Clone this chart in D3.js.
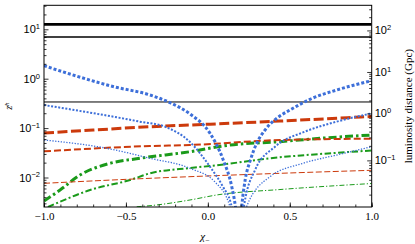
<!DOCTYPE html>
<html>
<head>
<meta charset="utf-8">
<script src="https://cdn.jsdelivr.net/npm/d3@7"></script>
<style>
  body { margin: 0; background: #fff; }
  svg { display: block; font-family: "Liberation Serif", "DejaVu Serif", serif; }
</style>
</head>
<body>
<div id="chart"></div>
<script>
// ---- data (chi_-, z^h) ----
const blueThickL = [[-1.0, 1.83], [-0.567, 0.68], [-0.353, 0.468], [-0.231, 0.327], [-0.109, 0.193], [0.013, 0.0785], [0.094, 0.0227], [0.146, 0.0065], [0.168, 0.0026], [0.185, 0.0008]];
const blueThickR = [[0.195, 0.0008], [0.207, 0.0026], [0.228, 0.009], [0.26, 0.0227], [0.298, 0.0492], [0.349, 0.0916], [0.44, 0.176], [0.501, 0.232], [0.623, 0.383], [0.786, 0.59], [1.0, 0.911]];
const blueMidL = [[-1.0, 0.293], [-0.414, 0.135], [-0.262, 0.107], [-0.109, 0.0523], [0.013, 0.01655], [0.092, 0.00651], [0.14, 0.00305], [0.175, 0.0008]];
const blueMidR = [[0.2, 0.0008], [0.222, 0.0028], [0.288, 0.0142], [0.41, 0.042], [0.592, 0.0846], [0.786, 0.135], [1.0, 0.199]];
const blueThinL = [[-1.0, 0.0574], [-0.617, 0.039], [-0.353, 0.0245], [-0.109, 0.01535], [0.044, 0.0081], [0.135, 0.00256], [0.165, 0.0008]];
const blueThinR = [[0.21, 0.0008], [0.237, 0.0026], [0.379, 0.0104], [0.581, 0.0194], [0.786, 0.0285], [1.0, 0.042]];

const redThick = [[-1.0, 0.0796], [-0.7, 0.0914], [-0.353, 0.1067], [-0.109, 0.1155], [0.44, 0.139], [1.0, 0.172]];
const redMid = [[-1.0, 0.0339], [-0.353, 0.0434], [-0.109, 0.0455], [0.44, 0.0574], [1.0, 0.061]];
const redThin = [[-1.0, 0.00763], [-0.353, 0.00964], [-0.109, 0.0104], [0.44, 0.01216], [1.0, 0.014]];

const greenThick = [[-1.0, 0.00334], [-0.902, 0.00558], [-0.78, 0.01124], [-0.597, 0.01937], [-0.414, 0.0245], [-0.109, 0.0333], [0.135, 0.0455], [0.44, 0.0531], [0.684, 0.0622], [1.0, 0.0725]];
const greenMid = [[-0.976, 0.00253], [-0.902, 0.00324], [-0.719, 0.00558], [-0.475, 0.0089], [-0.353, 0.01216], [-0.109, 0.01557], [0.013, 0.0171], [0.44, 0.0257], [0.684, 0.0299], [1.0, 0.0352]];
const greenThin = [[-0.434, 0.00256], [-0.353, 0.00269], [-0.109, 0.00351], [0.054, 0.00443], [0.44, 0.00571], [1.0, 0.00756]];

const hLines = [12.6, 6.98, 0.338];
const hWidths = [2.6, 1.6, 1.0];

const xMajor = [-1.0, -0.5, 0.0, 0.5, 1.0];
const zMajor = [1e-2, 1e-1, 1e0, 1e1];
const zExp = [-2, -1, 0, 1];
const dlMajor = [0.1, 1, 10, 100];
const dlExp = [-1, 0, 1, 2];

// ---- layout ----
const W = 415, H = 244;
const margin = {top: 5.3, right: 43.3, bottom: 37, left: 44};
const w = W - margin.left - margin.right, h = H - margin.top - margin.bottom;

const x = d3.scaleLinear().domain([-1, 1]).range([0, w]);
const y = d3.scaleLog().domain([0.00253, 30.6]).range([h, 0]);

// luminosity distance (Gpc), flat LCDM, only used to place the right axis
function dL(z) {
  const n = 400, dz = z / n;
  let s = 0;
  for (let i = 0; i <= n; i++) {
    const zz = i * dz;
    const f = 1 / Math.sqrt(0.3089 * Math.pow(1 + zz, 3) + 0.6911);
    s += (i === 0 || i === n) ? f : (i % 2 ? 4 * f : 2 * f);
  }
  return (1 + z) * 4.4256 * s * dz / 3;
}
function zOf(d) {
  let lo = -5, hi = 2.5;
  for (let i = 0; i < 60; i++) {
    const m = (lo + hi) / 2;
    if (dL(Math.pow(10, m)) < d) lo = m; else hi = m;
  }
  return Math.pow(10, (lo + hi) / 2);
}

const svg = d3.select("#chart").append("svg").attr("width", W).attr("height", H);
const g = svg.append("g").attr("transform", `translate(${margin.left},${margin.top})`);

g.append("clipPath").attr("id", "clip").append("rect").attr("width", w).attr("height", h);
const plot = g.append("g").attr("clip-path", "url(#clip)");

const line = d3.line().x(d => x(d[0])).y(d => y(d[1])).curve(d3.curveMonotoneX);

// horizontal thresholds
plot.selectAll(".hl").data(hLines).join("line")
    .attr("x1", 0).attr("x2", w)
    .attr("y1", d => y(d)).attr("y2", d => y(d))
    .attr("stroke", "#000").attr("stroke-width", (d, i) => hWidths[i]);

const blue = "#3d6fd9", red = "#cc3a0c", green = "#1a9a1a";
const series = [
  {d: greenThin, c: green, lw: 1, dash: "5,2,1.2,2"},
  {d: greenMid, c: green, lw: 2, dash: "6.5,2.5,2,2.5"},
  {d: greenThick, c: green, lw: 3, dash: "8,3,2.5,3"},
  {d: redThin, c: red, lw: 1, dash: "6,2.5"},
  {d: redMid, c: red, lw: 2, dash: "7,3"},
  {d: redThick, c: red, lw: 3, dash: "10,3.5"},
  {d: blueThinL, c: blue, lw: 1.3, dash: "1.3,1.5"},
  {d: blueThinR, c: blue, lw: 1.3, dash: "1.3,1.5"},
  {d: blueMidL, c: blue, lw: 2, dash: "2,1.6"},
  {d: blueMidR, c: blue, lw: 2, dash: "2,1.6"},
  {d: blueThickL, c: blue, lw: 3, dash: "3,2"},
  {d: blueThickR, c: blue, lw: 3, dash: "3,2"}
];
plot.selectAll(".curve").data(series).join("path")
    .attr("class", "curve")
    .attr("d", s => line(s.d))
    .attr("fill", "none")
    .attr("stroke", s => s.c)
    .attr("stroke-width", s => s.lw)
    .attr("stroke-dasharray", s => s.dash);

// ---- axes ----
function minors(lo, hi) {
  const out = [];
  for (let e = -4; e <= 3; e++)
    for (let m = 2; m <= 9; m++) {
      const v = m * Math.pow(10, e);
      if (v > lo && v < hi) out.push(v);
    }
  return out;
}
const style = ax => ax.call(a => a.select(".domain").remove())
    .call(a => a.selectAll("line").attr("stroke", "#000").attr("stroke-width", 0.8))
    .call(a => a.selectAll("text").attr("font-family", "Liberation Serif, serif").attr("font-size", 11).attr("fill", "#000"));

// bottom
g.append("g").attr("transform", `translate(0,${h})`)
    .call(d3.axisBottom(x).tickValues(d3.range(-10, 11).map(i => i / 10)).tickSize(-2.5).tickFormat(""))
    .call(style);
g.append("g").attr("transform", `translate(0,${h})`)
    .call(d3.axisBottom(x).tickValues(xMajor).tickSize(-4.5).tickPadding(5).tickFormat(d => d3.format(".1f")(d).replace("-", "\u2212")))
    .call(style);

// left
g.append("g")
    .call(d3.axisLeft(y).tickValues(minors(0.00253, 30.6)).tickSize(-2.5).tickFormat(""))
    .call(style);
const left = g.append("g")
    .call(d3.axisLeft(y).tickValues(zMajor).tickSize(-4.5).tickPadding(4).tickFormat(""))
    .call(style);
left.selectAll(".tick").append("text")
    .attr("x", -4).attr("dy", "0.32em").attr("text-anchor", "end")
    .attr("font-size", 11).attr("fill", "#000")
    .call(t => t.append("tspan").text("10"))
    .call(t => t.append("tspan").attr("font-size", 7.5).attr("dy", "-0.55em")
        .text((d, i) => String(zExp[i]).replace("-", "\u2212")));

// right (luminosity distance)
const dlMinor = minors(0.01, 1000).filter(d => { const z = zOf(d); return z > 0.00253 && z < 30.6; });
g.append("g").attr("transform", `translate(${w},0)`)
    .call(d3.axisRight(y).tickValues(dlMinor.map(zOf)).tickSize(-2.5).tickFormat(""))
    .call(style);
const right = g.append("g").attr("transform", `translate(${w},0)`)
    .call(d3.axisRight(y).tickValues(dlMajor.map(zOf)).tickSize(-4.5).tickFormat(""))
    .call(style);
right.selectAll(".tick").append("text")
    .attr("x", 3).attr("dy", "0.32em").attr("text-anchor", "start")
    .attr("font-size", 11).attr("fill", "#000")
    .call(t => t.append("tspan").text("10"))
    .call(t => t.append("tspan").attr("font-size", 7.5).attr("dy", "-0.55em")
        .text((d, i) => String(dlExp[i]).replace("-", "\u2212")));

// frame
g.append("rect").attr("width", w).attr("height", h)
    .attr("fill", "none").attr("stroke", "#000").attr("stroke-width", 1);

// labels
svg.append("text")
    .attr("transform", `translate(${margin.left + w / 2 - 3},${H - 4})`)
    .attr("text-anchor", "middle").attr("font-size", 11).attr("font-style", "italic")
    .call(t => t.append("tspan").text("\u03c7"))
    .call(t => t.append("tspan").attr("font-size", 7.5).attr("dy", "0.35em").attr("font-style", "normal").text("\u2212"));

svg.append("text")
    .attr("transform", `translate(12,${margin.top + h / 2}) rotate(-90)`)
    .attr("text-anchor", "middle").attr("font-size", 10).attr("font-style", "italic")
    .call(t => t.append("tspan").text("z"))
    .call(t => t.append("tspan").attr("font-size", 7).attr("dy", "-0.5em").text("h"));

svg.append("text")
    .attr("transform", `translate(412,${margin.top + h / 2}) rotate(-90)`)
    .attr("text-anchor", "middle").attr("font-size", 11)
    .text("luminosity distance (Gpc)");
</script>
</body>
</html>
